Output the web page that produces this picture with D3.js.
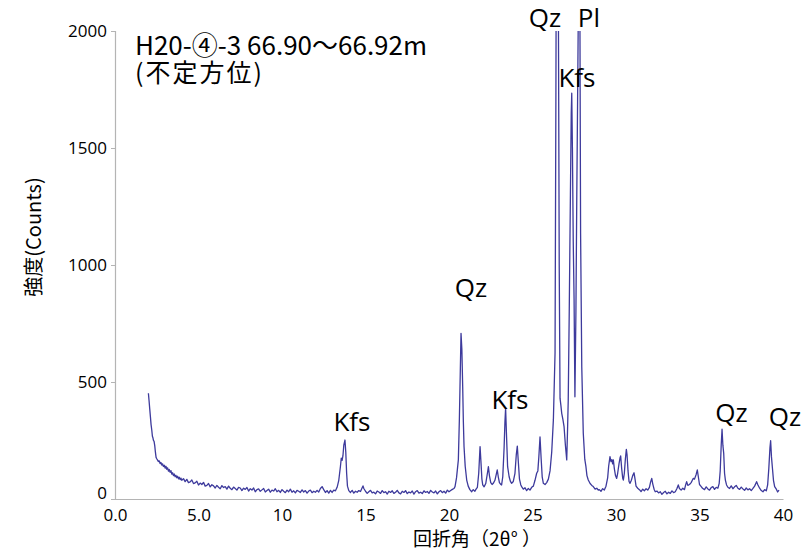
<!DOCTYPE html>
<html>
<head>
<meta charset="utf-8">
<script src="https://cdn.jsdelivr.net/npm/d3@7"></script>
<style>
  body { margin: 0; background: #fff; }
  svg { display: block; }
</style>
</head>
<body>
<div id="chart"></div>
<script>
// [2θ, counts], split by range
const lowAngle = [
  [2.00,452],[2.04,420],[2.08,385],[2.12,352],[2.16,318],[2.20,296],[2.24,268],[2.27,262],[2.30,251],[2.34,246],
  [2.38,228],[2.42,200],[2.46,178],[2.50,172],[2.55,166],[2.60,160],[2.65,163],[2.70,151],[2.75,156],[2.80,145],
  [2.85,150],[2.90,139],[2.95,144],[3.00,132],[3.05,140],[3.10,127],[3.15,133],[3.20,119],[3.25,126],[3.30,114],
  [3.35,121],[3.40,106],[3.45,112],[3.50,100],[3.55,107],[3.60,95],[3.65,101],[3.70,91],[3.75,97],[3.80,86],
  [3.85,93],[3.90,83],[3.95,89],[4.0,80],[4.1,87],[4.2,74],[4.3,84],[4.4,70],[4.5,73],[4.6,81],[4.7,66],
  [4.8,69],[4.9,76],[5.0,60],[5.1,68],[5.2,62],[5.3,71],[5.4,55],[5.5,58],[5.6,66],[5.7,52],[5.8,61],[5.9,56],
  [6.0,47],[6.1,58],[6.2,50],[6.3,44],[6.4,57],[6.5,49],[6.6,53],[6.7,42],[6.8,55],[6.9,46],[7.0,40],[7.1,51],
  [7.2,45],[7.3,38],[7.4,50],[7.5,47],[7.6,36],[7.7,46],[7.8,41],[7.9,49],[8.0,34],[8.1,44],[8.2,38],[8.3,47],
  [8.4,31],[8.5,40],[8.6,43],[8.7,33],[8.8,39],[8.9,45],[9.0,30],[9.1,36],[9.2,42],[9.3,29],[9.4,38],[9.5,34],
  [9.6,44],[9.7,31],[9.8,37],[9.9,28],[10.0,40],[10.1,33],[10.2,27],[10.3,38],[10.4,31],[10.5,42],[10.6,29],
  [10.7,35],[10.8,26],[10.9,37],[11.0,33],[11.1,28],[11.2,39],[11.3,30],[11.4,36],[11.5,25],[11.6,34],[11.7,38],
  [11.8,27],[11.9,33],[12.0,29],[12.1,37],[12.2,30],[12.3,45],[12.4,53],[12.5,40],[12.6,28],[12.7,36],[12.8,25],
  [12.9,37],[13.0,28],[13.1,38],[13.2,35],[13.3,50],[13.4,80],[13.5,140],[13.55,175],[13.6,165],[13.65,185],
  [13.7,230],[13.77,252],[13.82,200],[13.87,110],[13.92,55],[14.0,36],[14.1,28],[14.2,37],[14.3,25],[14.4,33],
  [14.5,29],[14.6,36],[14.7,32],[14.8,48],[14.85,56],[14.9,45],[15.0,33],[15.1,24],[15.2,31],[15.3,37],[15.4,26],
  [15.5,29],[15.6,22],[15.7,34],[15.8,30],[15.9,24],[16.0,36],[16.1,27],[16.2,31],[16.3,21],[16.4,33],[16.5,28],
  [16.6,35],[16.7,24],[16.8,29],[16.9,37],[17.0,26],[17.1,22],[17.2,33],[17.3,28],[17.4,36],[17.5,23],[17.6,30],
  [17.7,26],[17.8,34],[17.9,21],[18.0,31],[18.1,36],[18.2,25],[18.3,29],[18.4,23],[18.5,35],[18.6,28],[18.7,32],
  [18.8,24],[18.9,37],[19.0,30],[19.1,26],[19.2,34],[19.3,22],[19.4,31],[19.5,36],[19.6,27],[19.7,33],[19.8,25],
  [19.9,38],[20.0,31],[20.1,36],[20.2,41]
];

const midAngle = [
  [20.3,45],[20.36,53],[20.45,90],[20.56,167],[20.62,338],[20.68,560],[20.72,708],[20.77,640],[20.82,480],
  [20.86,330],[20.90,224],[20.97,140],[21.06,81],[21.15,55],[21.25,40],[21.36,31],[21.45,40],[21.55,33],[21.62,42],
  [21.7,50],[21.78,110],[21.86,224],[21.92,150],[21.97,85],[22.02,60],[22.1,52],[22.2,66],[22.3,110],[22.36,138],
  [22.42,100],[22.5,70],[22.58,62],[22.65,67],[22.75,80],[22.83,105],[22.89,124],[22.95,95],[23.02,70],[23.1,62],
  [23.15,60],[23.22,95],[23.3,220],[23.35,330],[23.39,388],[23.44,280],[23.51,138],[23.6,95],[23.68,75],[23.75,67],
  [23.85,75],[23.95,110],[24.03,190],[24.09,226],[24.15,160],[24.22,85],[24.3,60],[24.35,53],[24.45,42],[24.55,48],
  [24.65,36],[24.75,45],[24.85,38],[24.95,50],[25.05,55],[25.15,80],[25.25,110],[25.32,120],[25.38,180],[25.45,265],
  [25.52,170],[25.58,95],[25.65,67],[25.75,62],[25.85,70],[25.95,85],[26.05,120],[26.15,200],[26.25,338],[26.35,624],
  [26.40,1700],[26.43,2500],[26.48,3200],[26.53,2500],[26.56,1900],[26.60,1000],[26.65,430],[26.70,400],[26.75,366],
  [26.82,340],[26.89,309],[26.97,230],[27.05,167],[27.10,300],[27.14,423],[27.20,800],[27.27,1300],[27.32,1650],
  [27.35,1734],[27.39,1500],[27.44,1100],[27.49,850],[27.54,437],[27.60,800],[27.65,1278],[27.70,1700],[27.74,2050],
  [27.79,2400],[27.84,2050],[27.88,1136],[27.95,565],[28.04,282],[28.13,170],[28.20,138],[28.26,100],[28.34,81],
  [28.45,66],[28.55,58],[28.64,53],[28.75,42],[28.85,46],[28.94,38]
];

const highAngle = [
  [29.0,40],[29.1,33],[29.2,44],[29.3,38],[29.4,55],[29.5,90],[29.56,140],[29.64,181],[29.7,160],[29.75,168],
  [29.8,150],[29.84,167],[29.9,130],[29.97,100],[30.04,88],[30.1,110],[30.18,150],[30.24,175],[30.28,184],
  [30.34,130],[30.4,90],[30.44,81],[30.5,110],[30.56,170],[30.62,212],[30.66,190],[30.72,120],[30.78,75],[30.84,67],
  [30.92,80],[31.0,100],[31.08,112],[31.14,85],[31.2,55],[31.3,46],[31.4,40],[31.5,32],[31.6,42],[31.7,35],[31.8,44],
  [31.9,38],[32.0,50],[32.07,72],[32.14,88],[32.2,65],[32.28,42],[32.35,31],[32.45,34],[32.55,26],[32.65,31],
  [32.75,20],[32.85,28],[32.95,33],[33.05,22],[33.15,29],[33.25,24],[33.35,35],[33.45,27],[33.55,31],[33.65,45],
  [33.73,60],[33.8,45],[33.9,38],[34.0,46],[34.1,40],[34.17,60],[34.23,74],[34.3,58],[34.4,62],[34.5,70],[34.57,80],
  [34.63,88],[34.7,85],[34.8,105],[34.87,124],[34.93,95],[35.0,62],[35.08,55],[35.18,46],[35.3,40],[35.4,52],
  [35.5,43],[35.6,38],[35.7,49],[35.8,53],[35.9,41],[36.0,50],[36.1,46],[36.18,67],[36.24,120],[36.3,230],
  [36.35,298],[36.4,230],[36.45,195],[36.5,110],[36.55,81],[36.62,60],[36.7,50],[36.8,45],[36.9,56],[37.0,44],
  [37.1,52],[37.2,58],[37.3,46],[37.4,41],[37.5,51],[37.6,43],[37.7,37],[37.8,47],[37.9,39],[38.0,44],[38.1,36],
  [38.2,45],[38.3,55],[38.42,74],[38.5,60],[38.6,46],[38.7,36],[38.8,31],[38.9,40],[39.0,35],[39.08,60],[39.15,130],
  [39.22,220],[39.26,249],[39.31,180],[39.36,138],[39.43,80],[39.5,53],[39.6,42],[39.68,30],[39.76,38]
];

const yTicks = [0, 500, 1000, 1500, 2000];
const xTicks = [0, 5, 10, 15, 20, 25, 30, 35, 40];
const xTickLabels = ["0.0", "5.0", "10", "15", "20", "25", "30", "35", "40"];

// mineral name, 2θ, counts where the label sits
const peakLabels = [
  ["Kfs", 14.19, 291], ["Qz", 21.32, 863], ["Kfs", 23.65, 385],
  ["Qz", 25.75, 2017], ["Pl", 28.38, 2017], ["Kfs", 27.66, 1761],
  ["Qz", 36.92, 329], ["Qz", 40.12, 312]
];

const titleLines = ["H20-④-3 66.90～66.92m", "(不定方位)"];

const width = 812, height = 552;
const plotLeft = 115, plotRight = 783, plotTop = 31, plotBottom = 499;

const x = d3.scaleLinear().domain([0, 40]).range([plotLeft, plotRight]);
const y = d3.scaleLinear().domain([0, 2000]).range([plotBottom, plotTop]);

const svg = d3.select('#chart')
  .append('svg')
  .attr('width', width)
  .attr('height', height)
  .style('background-color', 'white');

svg.append('clipPath')
  .attr('id', 'plot-clip')
  .append('rect')
  .attr('x', plotLeft)
  .attr('y', plotTop)
  .attr('width', plotRight - plotLeft + 2)
  .attr('height', plotBottom - plotTop);

const pattern = lowAngle.concat(midAngle, highAngle);

const line = d3.line()
  .x(d => x(d[0]))
  .y(d => y(d[1]));

svg.append('path')
  .datum(pattern)
  .attr('clip-path', 'url(#plot-clip)')
  .attr('fill', 'none')
  .style('stroke', '#3d3a9c')
  .style('stroke-width', 1.3)
  .style('stroke-linejoin', 'round')
  .attr('d', line);

// y axis
const yAxis = svg.append('g')
  .attr('transform', `translate(${plotLeft},0)`)
  .call(d3.axisLeft(y).tickValues(yTicks).tickSize(4).tickPadding(4).tickFormat(d3.format('d')));

// x axis
const xAxis = svg.append('g')
  .attr('transform', `translate(0,${plotBottom})`)
  .call(d3.axisBottom(x).tickValues(xTicks).tickSize(0).tickPadding(10)
    .tickFormat((d, i) => xTickLabels[i]));

[xAxis, yAxis].forEach(g => {
  g.select('.domain').style('stroke', '#b4b4b4').style('stroke-width', 1.2);
  g.selectAll('.tick line').style('stroke', '#b4b4b4');
  g.selectAll('.tick text')
    .style('font-family', '"Open Sans", sans-serif')
    .style('font-size', '17px')
    .style('fill', '#000');
});
yAxis.selectAll('.tick text').filter(d => d === 0).attr('y', -6);

// peak names
svg.selectAll('.peak-label')
  .data(peakLabels)
  .enter()
  .append('text')
  .attr('class', 'peak-label')
  .attr('x', d => x(d[1]))
  .attr('y', d => y(d[2]))
  .attr('text-anchor', 'middle')
  .style('font-family', '"Open Sans", sans-serif')
  .style('font-size', '26px')
  .style('fill', '#000')
  .text(d => d[0]);

// sample title, one text block with two lines
const title = svg.append('text')
  .attr('x', 135)
  .attr('y', 55)
  .style('font-family', '"Noto Sans CJK JP", sans-serif')
  .style('font-size', '26px')
  .style('fill', '#000');

title.selectAll('tspan')
  .data(titleLines)
  .enter()
  .append('tspan')
  .attr('x', 135)
  .attr('dy', (d, i) => i === 0 ? 0 : 27)
  .style('font-size', (d, i) => i === 0 ? '26px' : '25px')
  .style('letter-spacing', (d, i) => i === 1 ? '2px' : '0px')
  .text(d => d);

svg.append('text')
  .attr('transform', 'translate(41,237) rotate(-90)')
  .attr('text-anchor', 'middle')
  .style('font-family', '"Noto Sans CJK JP", sans-serif')
  .style('font-size', '20px')
  .text('強度(Counts)');

svg.append('text')
  .attr('x', 477)
  .attr('y', 546)
  .attr('text-anchor', 'middle')
  .style('font-family', '"Noto Sans CJK JP", sans-serif')
  .style('font-size', '19px')
  .text('回折角（2θ° ）');
</script>
</body>
</html>
